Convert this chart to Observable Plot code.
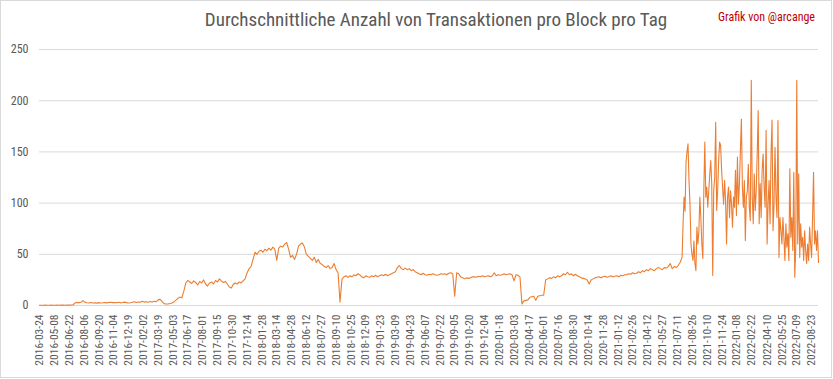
<!DOCTYPE html>
<html>
<head>
<meta charset="utf-8">
<script src="https://cdn.jsdelivr.net/npm/d3@7"></script>
<script src="https://cdn.jsdelivr.net/npm/@observablehq/plot@0.6"></script>
<style>
  html, body { margin: 0; padding: 0; background: #fff; }
  #chart { position: relative; width: 833px; height: 379px; background: #fff; overflow: hidden; }
  #frame { position: absolute; left: 0; top: 0; width: 832px; height: 378px; box-sizing: border-box; border: 1px solid #d9d9d9; pointer-events: none; }
  #title { position: absolute; left: 436px; top: 8px; transform: translateX(-50%); white-space: nowrap;
           font-family: "Liberation Sans Narrow", "Roboto Condensed", "Open Sans", sans-serif; font-size: 19px; color: #595959; }
  #credit { position: absolute; right: 18px; top: 10px; white-space: nowrap;
            font-family: "Liberation Sans Narrow", "Roboto Condensed", "Open Sans", sans-serif; font-size: 12px; color: #c00000; }
  #plot { position: absolute; left: 0; top: 0; }
</style>
</head>
<body>
<div id="chart">
  <div id="plot"></div>
  <div id="title">Durchschnittliche Anzahl von Transaktionen pro Block pro Tag</div>
  <div id="credit">Grafik von @arcange</div>
  <div id="frame"></div>
</div>
<script>
// Readings every 6 days from 2016-03-24
const earlyStart = "2016-03-24";
const earlyStepDays = 6;
const earlyValues = [
  0.2,0.3,0.3,0.4,0.3,0.3,0.4,0.3,0.3,0.4,0.3,0.4,0.4,0.3,0.4,0.4,0.5,0.5,
  2.6,3.0,2.8,3.2,4.8,3.1,2.7,2.5,2.9,2.4,2.6,2.3,2.8,2.5,2.7,3.0,2.6,2.9,3.2,2.8,
  3.0,2.7,3.1,2.6,2.9,3.3,2.8,2.5,2.7,3.2,3.6,3.0,3.4,3.1,4.2,3.3,3.7,3.2,3.9,3.4,
  4.1,3.6,5.5,6.0,4.0,
  1.8,1.5,1.6,1.9,2.4,
  3.5,5.2,7.0,8.2,7.5,14,22,
  24.5,23,21.5,24,22.5,20,23.5,22,25,21,19,22,23,21,24.5,23,26,24,22.5,23.5,
  21,18,17,20.5,22,21,23,22,24,26,
  32,36,38,45,52,50,53,54,52,55,53.5,56,54,57,55,44,56,58,57,60,61.5,55,47,49,45,
  50,58,60,61,57,50,48,46,44,47,42,45,41,40,38,37,39,36,37,41,35,32,3.3,26,
  28,29,27.5,29,28,30,29,31,30,28,27,29,28,27.5,29,28,29.5,28,29,30,29,30.5,29,30,31,32,33,37,
  39,36,35,36.5,35,36,34,35,33,32,
  31,30,31.5,30,29.5,30.5,30,31,30,29.5,30,31,30.5,31,30,31.5,32,31,
  9,32,31,
  28,27,26,27,26.5,27,28,
  28,27.5,28.5,28,29,28,28.5,29,28,29,32,29,30,29.5,30,31,30,30.5,31,30,
  24,30,29.5,28,
  1.6,4.5,5,5.5,
  8,8.5,9,5,9,9.5,10,10,
  25,26,27,26.5,28,27,29,28,
  29,31,30,32.5,30,31,29,30.5,29,
  28,27,26.5,26,25,21,25,
  26,27,27.5,28,27,28,28.5,27.5,28,29,28,28.5,29,28,29.5,29,30,
  30,31,30.5,32,31,31.5,33,32,
  34,33,35,34,36,35,34,36,37,36,35,37,36.5,38,
  41,36,38,37,39,42
];
// Readings every 3 days from 2021-07-26 (volatile period)
const lateStart = "2021-07-26";
const lateStepDays = 3;
const lateValues = [
  47,79.8,105.8,92,140,150,158,122,99,60,50,44,63,41,34,76.5,60,73,105.8,85,
  60,46,112,159.5,105.8,115.6,96,112,128,141.6,119,29.3,112,125,179,92.8,112,141.6,159.5,156,
  132,115,99,122,102.5,60,105.8,115.6,86,112,99,76.5,105.8,96,132,88,145,99,118,151,
  182,115.6,96,122,63.5,105.8,112,138,96,83,220,105.8,79.8,128.6,92.8,112,148,190.4,79.8,119,
  86,132,148,115.6,96,171,60,99,122,79.8,148,181,73,99,154.6,105.8,86,180.7,47,86,
  73,60,86,66.7,44,79.8,57,70,44,133.5,66.7,86,53.7,130,27.7,57,220,60,128.6,47,
  79.8,57,66.7,44,73,53.7,41,60,44,76.5,60,47,86,130,60,73,53.7,73,42
];
const tickLabels = [
  "2016-03-24","2016-05-08","2016-06-22","2016-08-06","2016-09-20","2016-11-04","2016-12-19",
  "2017-02-02","2017-03-19","2017-05-03","2017-06-17","2017-08-01","2017-09-15","2017-10-30","2017-12-14",
  "2018-01-28","2018-03-14","2018-04-28","2018-06-12","2018-07-27","2018-09-10","2018-10-25","2018-12-09",
  "2019-01-23","2019-03-09","2019-04-23","2019-06-07","2019-07-22","2019-09-05","2019-10-20","2019-12-04",
  "2020-01-18","2020-03-03","2020-04-17","2020-06-01","2020-07-16","2020-08-30","2020-10-14","2020-11-28",
  "2021-01-12","2021-02-26","2021-04-12","2021-05-27","2021-07-11","2021-08-26","2021-10-10","2021-11-24",
  "2022-01-08","2022-02-22","2022-04-10","2022-05-25","2022-07-09","2022-08-23"
];
const yTicks = [0, 50, 100, 150, 200, 250];

const parse = d3.utcParse("%Y-%m-%d");
const data = [];
earlyValues.forEach((v, i) => data.push({date: d3.utcDay.offset(parse(earlyStart), i * earlyStepDays), value: v}));
lateValues.forEach((v, i) => data.push({date: d3.utcDay.offset(parse(lateStart), i * lateStepDays), value: v}));
const tickDates = tickLabels.map(parse);

const font = '"Liberation Sans Narrow", "Roboto Condensed", "Open Sans", sans-serif';
const chart = Plot.plot({
  width: 833,
  height: 379,
  marginTop: 49,
  marginBottom: 74,
  marginLeft: 39,
  marginRight: 15,
  style: {fontFamily: font, fontSize: "12px", color: "#595959", background: "transparent"},
  x: {type: "utc", domain: [data[0].date, data[data.length - 1].date]},
  y: {domain: [0, 250]},
  marks: [
    Plot.gridY(yTicks, {stroke: "#d9d9d9", strokeOpacity: 1, strokeWidth: 1}),
    Plot.axisY(yTicks, {tickSize: 0, tickPadding: 11, label: null, fontSize: 12, fill: "#595959"}),
    Plot.axisX(tickDates, {tickSize: 0, tickPadding: 9, tickRotate: -90, label: null,
      tickFormat: d3.utcFormat("%Y-%m-%d"), fontSize: 11.5, fill: "#595959"}),
    Plot.lineY(data, {x: "date", y: "value", stroke: "#ed7d31", strokeWidth: 1.1})
  ]
});
document.getElementById("plot").appendChild(chart);
</script>
</body>
</html>
